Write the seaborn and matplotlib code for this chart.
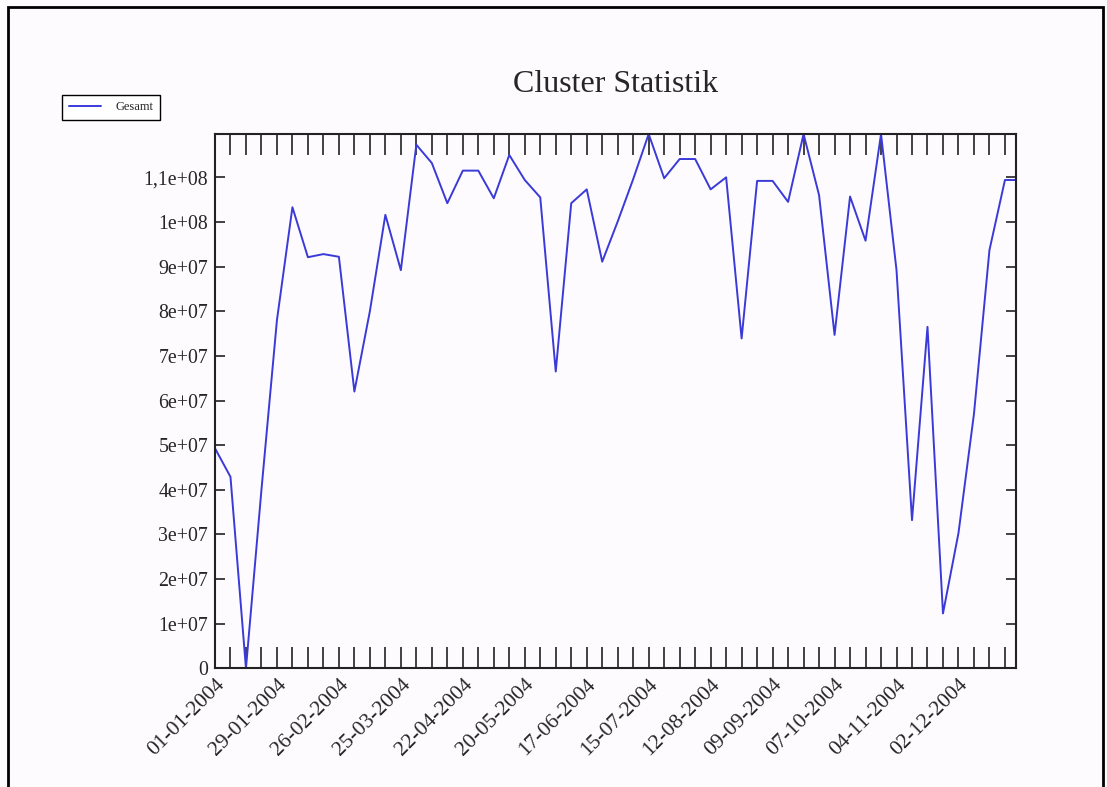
import pandas as pd
import matplotlib
matplotlib.use('Agg')
import matplotlib.pyplot as plt
import matplotlib.patches as patches
import seaborn as sns

# weekly samples from 01-01-2004, last sample on 28-12-2004
week_dates = list(pd.date_range('2004-01-01', periods=52, freq='7D')) + [pd.Timestamp('2004-12-28')]
gesamt = [4.93, 4.29, 0.0, 4.00, 7.80, 10.33, 9.21, 9.28, 9.22, 6.20,
          8.00, 10.16, 8.92, 11.73, 11.32, 10.42, 11.15, 11.15, 10.53, 11.50,
          10.94, 10.55, 6.65, 10.42, 10.73, 9.11, 10.01, 10.96, 11.97, 10.98,
          11.41, 11.41, 10.73, 11.00, 7.39, 10.92, 10.92, 10.45, 11.97, 10.60,
          7.47, 10.57, 9.58, 11.97, 8.92, 3.32, 7.65, 1.23, 3.03, 5.70,
          9.37, 10.94, 10.94]
gesamt = [v * 1e7 for v in gesamt]
y_ticks = [i * 1e7 for i in range(12)]
y_labels = ['0', '1e+07', '2e+07', '3e+07', '4e+07', '5e+07', '6e+07',
            '7e+07', '8e+07', '9e+07', '1e+08', '1,1e+08']

df = pd.DataFrame({'Datum': week_dates, 'Gesamt': gesamt})

sns.set_theme(style='ticks')
plt.rcParams['font.family'] = ['Liberation Serif', 'DejaVu Serif']

bg = '#fdfbfd'
fig = plt.figure(figsize=(11.07, 7.87), dpi=100, facecolor=bg)
ax = fig.add_axes([0.1942, 0.1508, 0.7236, 0.6789])
ax.set_facecolor(bg)

sns.lineplot(data=df, x='Datum', y='Gesamt', ax=ax, color='#3a3ad8',
             linewidth=1.4, label='Gesamt', legend=False)

ax.set_xlim(week_dates[0], week_dates[-1])
ax.set_ylim(0, max(gesamt))

tick_dates = week_dates[:-1]
tick_labels = [d.strftime('%d-%m-%Y') if i % 4 == 0 else '' for i, d in enumerate(tick_dates)]
ax.set_xticks(tick_dates)
ax.set_xticklabels(tick_labels, rotation=45, ha='right', va='top', rotation_mode='anchor')
ax.set_yticks(y_ticks)
ax.set_yticklabels(y_labels)

ax.tick_params(axis='x', direction='in', length=15, width=1.2, top=True, bottom=True,
               labelsize=15.5, pad=5, color='#222222')
ax.tick_params(axis='y', direction='in', length=7, width=1.2, left=True, right=True,
               labelsize=14.3, pad=5, color='#222222')
for s in ax.spines.values():
    s.set_visible(True)
    s.set_linewidth(1.5)
    s.set_color('#222222')

ax.set_xlabel('')
ax.set_ylabel('')
ax.set_title('Cluster Statistik', fontsize=23, pad=30)

leg_handles, leg_labels = ax.get_legend_handles_labels()
fig.legend(leg_handles, leg_labels, loc='upper left',
           bbox_to_anchor=(56 / 1107, 1 - 89 / 787), fontsize=9,
           frameon=True, fancybox=False, edgecolor='black', facecolor='white',
           framealpha=1, handlelength=2.6, borderpad=0.5, handletextpad=1.2)

# outer frame
fig.patches.append(patches.Rectangle((8 / 1107, -0.1), (1103 - 8) / 1107, 1.1 - 7 / 787,
                                     transform=fig.transFigure, fill=False,
                                     edgecolor='black', linewidth=2))

fig.savefig('out.png', dpi=100, facecolor=bg)
